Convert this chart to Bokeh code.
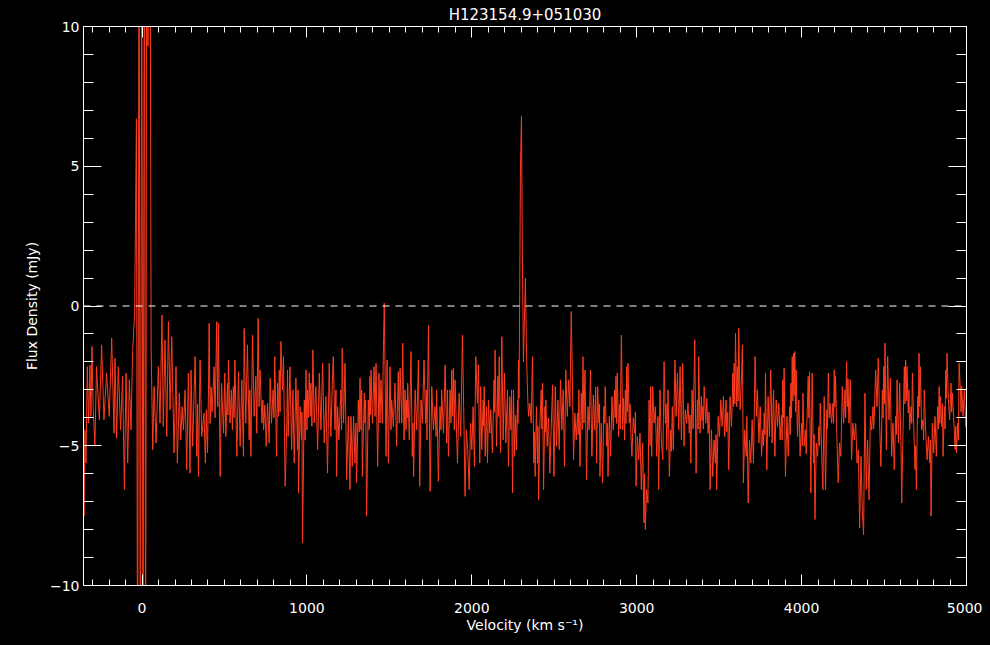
from bokeh.plotting import figure
from bokeh.models import Range1d, LinearAxis, SingleIntervalTicker, Span, ColumnDataSource, CustomLabelingPolicy
from bokeh.embed import file_html
from bokeh.resources import INLINE

TITLE = "H123154.9+051030"
X_LABEL = "Velocity (km s\u207b\u00b9)"
Y_LABEL = "Flux Density (mJy)"
X_RANGE = (-355, 5000)
Y_RANGE = (-10, 10)

# spectrum (velocity km/s, flux mJy)
vel_a = [-356, -352, -346, -340, -332, -324, -316, -310, -304, -296, -286, -276, -259, -245, -231, -215,
         -199, -184, -170, -164, -154, -144, -130, -118, -107, -97, -87, -77, -67, -57, -45]
flux_a = [-4.19, -7.52, -4.43, -5.62, -2.17, -4.19, -2.11, -3.95, -1.45, -3.71, -5.02, -2.17, -4.07, -1.39,
          -4.07, -2.40, -3.95, -1.15, -4.55, -1.87, -4.73, -2.17, -4.43, -2.52, -6.57, -2.40, -5.62, -2.64,
          -4.43, -1.63, -0.26]

vel_b = [-34, -27, -18, -10, -2, 6, 14, 22, 28, 36, 42, 49, 55]
flux_b = [6.7, -15, 15, -15, 15, -15, 15, -15, 15, 9.3, 12, 15, -1.45]

vel_c = [65, 73, 85, 99, 109, 121, 129, 139, 150, 160, 170, 180, 194, 206, 214, 226, 235, 243, 251, 261,
         271, 281, 291, 297, 307, 322, 332, 337, 342, 352, 362, 376, 384, 390]
flux_c = [-5.14, -2.88, -4.90, -2.17, -4.19, -0.32, -4.31, -1.21, -4.67, -0.56, -3.71, -1.10, -5.26, -2.17,
          -5.62, -3.12, -4.79, -3.60, -4.43, -3.00, -5.86, -2.40, -5.98, -2.29, -5.02, -1.81, -5.38, -3.50,
          -6.10, -1.93, -4.67, -3.83, -5.62, -3.71]

vel_d = [397, 403, 407, 413, 419, 425, 437, 443, 453, 459,
         463, 474, 482, 494, 502, 508, 518, 521, 524, 534,
         542, 548, 554, 558, 563, 575, 585, 595, 605, 615,
         619, 629, 639, 650, 654, 660, 670, 680, 690, 696,
         704, 710, 716, 727, 733, 737, 745, 753, 761, 771,
         777, 785, 795, 800, 805, 816, 822, 828, 832, 837,
         842, 852, 858, 868, 878, 882, 886, 897, 907, 915,
         923, 933, 943, 946, 949, 959, 967, 970, 973, 984,
         989, 994, 1000, 1004, 1009, 1014, 1020, 1024, 1030, 1036,
         1044, 1054, 1065, 1075, 1085, 1095, 1105, 1115, 1125, 1135,
         1145, 1156]
flux_d = [-5.26, -3.00, -0.62, -4.20, -2.90, -3.80, -2.17, -4.00, -0.56, -3.60,
          -0.62, -6.10, -2.76, -4.55, -2.40, -4.67, -2.76, -3.90, -1.93, -4.19,
          -3.00, -4.43, -2.88, -4.00, -1.93, -5.38, -2.35, -5.02, -2.64, -5.38,
          -0.80, -4.19, -1.39, -4.79, -3.00, -5.38, -1.04, -3.95, -2.52, -4.55,
          -0.44, -3.60, -2.29, -4.19, -3.36, -4.43, -3.54, -5.02, -3.48, -4.90,
          -2.58, -4.19, -3.00, -4.00, -1.81, -5.38, -2.76, -3.95, -2.29, -3.80,
          -1.27, -3.00, -1.81, -6.45, -4.19, -2.29, -4.67, -2.17, -5.14, -3.00,
          -5.62, -2.58, -5.14, -3.00, -6.69, -3.60, -4.79, -3.80, -8.48, -3.36,
          -4.80, -2.29, -4.43, -3.00, -4.00, -2.40, -3.95, -2.76, -4.30, -1.57,
          -4.19, -2.88, -5.14, -2.40, -4.43, -2.05, -4.90, -3.24, -5.98, -2.05,
          -4.67, -2.40]

vel_e = [1160, 1170, 1176, 1180, 1186, 1194, 1206, 1210, 1214, 1222,
         1231, 1241, 1251, 1261, 1267, 1275, 1283, 1291, 1297, 1301,
         1312, 1317, 1322, 1328, 1332, 1336, 1342, 1348, 1352, 1356,
         1362, 1372, 1378, 1382, 1385, 1389, 1397, 1407, 1413, 1419,
         1429, 1437, 1443, 1449, 1457, 1465, 1469, 1480, 1486, 1494,
         1504, 1510, 1514, 1524, 1534, 1544, 1554, 1560, 1565, 1575,
         1581, 1589, 1595, 1601, 1605, 1608, 1611, 1621, 1631, 1639,
         1643, 1647, 1656, 1666, 1676, 1684, 1692, 1700, 1710, 1720,
         1724, 1728, 1737, 1747, 1757, 1767, 1777, 1783, 1787, 1797,
         1807, 1813, 1817, 1828, 1838, 1848, 1852, 1858, 1868, 1874,
         1878, 1884, 1888, 1894, 1898]
flux_e = [-1.81, -4.43, -3.00, -6.10, -3.60, -4.79, -3.00, -4.43, -1.51, -4.19,
          -2.05, -6.21, -3.95, -6.57, -3.95, -5.74, -3.95, -5.62, -4.19, -6.33,
          -3.36, -4.50, -2.58, -4.43, -3.00, -6.10, -4.60, -3.12, -4.19, -3.36,
          -7.52, -3.36, -4.43, -2.52, -3.90, -2.29, -4.19, -2.17, -3.95, -2.05,
          -5.74, -2.40, -4.19, -2.64, -4.19, -1.10, 0.10, -5.38, -1.93, -5.62,
          -2.17, -4.43, -3.36, -4.31, -2.76, -5.02, -2.35, -4.19, -2.23, -4.19,
          -1.33, -4.79, -3.00, -4.43, -3.36, -4.00, -2.76, -4.79, -1.63, -5.38,
          -4.19, -6.10, -3.00, -4.43, -1.93, -6.45, -3.36, -4.19, -1.93, -4.19,
          -3.00, -4.79, -0.68, -6.63, -2.88, -4.43, -3.60, -4.67, -3.00, -6.27,
          -3.60, -4.43, -3.00, -4.55, -2.11, -4.90, -3.00, -5.38, -3.00, -4.19,
          -2.29, -3.95, -2.23, -4.43, -2.64]

vel_f = [1913, 1923, 1933, 1943, 1953, 1959, 1967, 1975, 1984, 1992,
         2000, 2008, 2016, 2024, 2034, 2040, 2048, 2054, 2060, 2069,
         2072, 2075, 2081, 2089, 2095, 2101, 2109, 2115, 2125, 2135,
         2138, 2141, 2150, 2158, 2162, 2166, 2174, 2182, 2190, 2198,
         2206, 2216, 2222, 2230, 2237, 2241, 2247, 2253, 2259, 2265,
         2271, 2277, 2280, 2283, 2286, 2289, 2295, 2301, 2307, 2313,
         2319, 2325, 2332, 2338, 2344, 2352, 2360, 2368, 2376, 2380,
         2384, 2392, 2398, 2401, 2405, 2413, 2421, 2425, 2429, 2435,
         2443, 2446, 2449, 2457, 2465, 2473, 2481, 2490, 2498, 2506,
         2514, 2522, 2530, 2538, 2546, 2554, 2562, 2570, 2579, 2587,
         2595, 2603, 2611, 2617, 2625, 2633, 2641, 2645, 2649]
flux_f = [-5.62, -3.12, -4.67, -1.04, -4.43, -6.81, -4.43, -5.14, -6.57, -4.19,
          -5.14, -3.60, -5.74, -1.81, -3.48, -2.11, -5.62, -2.88, -5.14, -3.36,
          -4.30, -2.88, -5.38, -3.60, -5.62, -3.36, -4.55, -3.71, -5.26, -2.64,
          -3.80, -1.57, -5.02, -2.52, -3.95, -1.81, -5.26, -1.10, -4.79, -2.40,
          -4.90, -3.00, -5.74, -3.24, -4.43, -3.00, -6.69, -3.00, -5.38, -3.90,
          -5.14, -3.36, -4.20, -1.93, -3.30, -0.98, 5.0, 6.8, 1.5, -2.0,
          -0.5, 1.0, -1.8, -3.12, -3.95, -3.48, -4.19, -1.81, -5.62, -4.50,
          -6.10, -3.60, -5.62, -4.30, -6.93, -4.19, -3.00, -4.40, -2.76, -6.57,
          -3.60, -4.50, -3.36, -5.02, -4.00, -5.98, -4.43, -2.82, -6.10, -2.88,
          -5.02, -3.36, -5.14, -2.64, -4.43, -3.00, -5.74, -2.29, -3.95, -2.64,
          -3.60, -0.20, -3.00, -5.50, -3.83, -4.79, -3.83, -4.60, -3.00]

vel_g = [2656, 2664, 2670, 2674, 2680, 2686, 2696, 2704, 2712, 2720,
         2728, 2737, 2745, 2751, 2757, 2763, 2771, 2774, 2777, 2785,
         2793, 2801, 2805, 2809, 2817, 2822, 2826, 2834, 2842, 2850,
         2858, 2866, 2870, 2874, 2878, 2882, 2890, 2896, 2900, 2907,
         2915, 2920, 2927, 2931, 2935, 2939, 2943, 2947, 2955, 2960,
         2965, 2971, 2979, 2988, 2992, 2996, 3004, 3012, 3020, 3028,
         3036, 3044, 3048, 3052, 3060, 3068, 3075, 3081, 3085, 3091,
         3097, 3105, 3113, 3121, 3129, 3133, 3141, 3149, 3158, 3162,
         3166, 3174, 3178, 3182, 3190, 3198, 3206, 3210, 3216, 3222,
         3232, 3239, 3247, 3255, 3263, 3271, 3279, 3287, 3295, 3303,
         3311, 3319, 3323, 3328, 3336, 3342, 3352, 3360, 3368, 3372,
         3376, 3384, 3392, 3396, 3400, 3404]
flux_g = [-5.74, -3.12, -4.43, -1.81, -4.19, -2.29, -6.21, -3.60, -4.43, -2.29,
          -5.38, -3.18, -4.43, -2.90, -5.62, -2.88, -4.19, -3.50, -6.10, -4.19,
          -6.33, -3.60, -4.20, -2.88, -5.02, -4.20, -6.10, -3.95, -5.38, -3.24,
          -4.43, -3.00, -4.00, -2.52, -4.20, -2.40, -4.67, -3.50, -4.40, -1.04,
          -4.43, -3.30, -4.80, -3.00, -4.20, -2.17, -3.80, -2.05, -4.19, -3.50,
          -4.60, -5.38, -4.00, -4.55, -3.80, -6.45, -4.67, -5.50, -4.55, -6.57,
          -4.90, -7.76, -6.00, -8.00, -6.57, -7.05, -3.36, -5.00, -2.88, -5.38,
          -2.88, -4.19, -3.60, -5.38, -3.95, -6.57, -3.00, -4.79, -5.50, -4.00,
          -1.99, -4.19, -3.50, -5.14, -3.00, -6.10, -4.43, -5.20, -3.60, -5.14,
          -1.93, -3.95, -2.40, -4.43, -2.17, -4.79, -2.05, -5.02, -3.71, -4.19,
          -3.48, -4.55, -3.90, -5.62, -3.00, -4.40, -1.21, -5.98, -3.36, -4.40,
          -1.81, -4.55, -3.24, -4.10, -3.60, -4.40]

vel_h = [3409, 3419, 3425, 3433, 3439, 3445, 3453, 3461, 3469, 3477,
         3481, 3485, 3494, 3502, 3510, 3518, 3526, 3534, 3542, 3546,
         3552, 3558, 3566, 3575, 3583, 3587, 3591, 3595, 3599, 3607,
         3611, 3615, 3619, 3627, 3635, 3641, 3647, 3655, 3664, 3668,
         3676, 3684, 3692, 3700, 3708, 3718, 3726, 3732, 3741, 3749,
         3757, 3765, 3769, 3773, 3777, 3781, 3789, 3797, 3805, 3813,
         3821, 3830, 3838, 3846, 3854, 3862, 3870, 3878, 3882, 3886,
         3890, 3894, 3902, 3911, 3919, 3927, 3931, 3935, 3939, 3943,
         3947, 3951, 3955, 3959, 3963, 3967, 3975, 3983, 3991, 4000,
         4004, 4008, 4016, 4024, 4028, 4032, 4040, 4044, 4048, 4056,
         4064, 4072, 4076, 4081, 4089, 4097, 4105, 4109, 4113, 4121,
         4129, 4137, 4145, 4153, 4157]
flux_h = [-2.88, -4.19, -3.30, -4.55, -3.80, -6.57, -4.43, -6.10, -4.79, -5.62,
          -4.60, -6.57, -3.95, -4.67, -3.36, -4.31, -3.24, -4.67, -3.36, -4.50,
          -3.80, -5.86, -3.24, -4.31, -2.40, -3.60, -2.05, -3.50, -0.98, -3.60,
          -2.17, -3.40, -0.80, -3.71, -2.64, -1.39, -6.33, -4.43, -5.38, -3.95,
          -7.05, -4.79, -5.62, -4.07, -5.62, -1.81, -3.95, -3.00, -4.90, -3.60,
          -5.38, -4.43, -5.00, -3.83, -4.60, -2.40, -5.86, -3.24, -4.67, -2.29,
          -4.90, -3.00, -5.38, -3.36, -4.31, -3.48, -4.79, -3.90, -4.80, -2.64,
          -4.00, -2.23, -6.10, -3.95, -5.38, -3.60, -4.60, -2.76, -4.00, -1.81,
          -3.40, -1.69, -3.20, -1.63, -3.80, -2.29, -4.67, -3.36, -5.38, -4.19,
          -5.00, -3.12, -5.02, -4.43, -5.30, -4.19, -2.52, -4.00, -2.35, -6.69,
          -2.40, -5.62, -4.60, -7.64, -4.90, -5.38, -4.31, -5.00, -3.48, -5.14,
          -6.57, -3.24, -6.57, -3.71, -4.40]

vel_i = [4162, 4168, 4172, 4182, 4190, 4194, 4198, 4202, 4206, 4212,
         4222, 4230, 4238, 4247, 4255, 4263, 4267, 4273, 4277, 4281,
         4287, 4295, 4303, 4311, 4319, 4328, 4336, 4344, 4352, 4360,
         4368, 4376, 4384, 4392, 4400, 4409, 4417, 4425, 4433, 4437,
         4441, 4449, 4457, 4465, 4473, 4481, 4490, 4494, 4498, 4502,
         4506, 4514, 4522, 4530, 4538, 4546, 4554, 4562, 4570, 4575,
         4579, 4587, 4595, 4603, 4607, 4615, 4623, 4627, 4631, 4635,
         4639, 4647, 4651, 4655, 4664, 4668, 4672, 4680, 4688, 4692,
         4696, 4704, 4708, 4712, 4716, 4720, 4728, 4736, 4740, 4744,
         4753, 4761, 4769, 4777, 4781, 4785, 4793, 4801, 4809, 4817,
         4825, 4830, 4834, 4838, 4842, 4850, 4854, 4858, 4866, 4870,
         4874, 4878, 4882, 4890, 4898, 4906, 4910, 4914, 4922, 4931,
         4935, 4939, 4947, 4951, 4955, 4963, 4967, 4971, 4979, 4987,
         4995, 5000]
flux_i = [-2.40, -4.00, -3.48, -4.19, -3.48, -4.20, -2.29, -3.60, -2.52, -4.31,
          -6.33, -4.90, -5.38, -2.88, -4.19, -3.00, -4.00, -1.99, -3.60, -2.60,
          -4.19, -2.64, -5.50, -4.19, -4.79, -4.20, -5.62, -5.14, -7.94, -5.38,
          -7.29, -8.18, -3.12, -6.57, -4.79, -6.93, -3.95, -4.43, -3.60, -4.40,
          -3.95, -2.29, -3.60, -1.87, -4.19, -5.74, -3.00, -4.00, -2.17, -3.50,
          -1.33, -5.14, -1.81, -4.07, -2.58, -5.38, -4.19, -5.86, -3.95, -4.60,
          -2.64, -4.90, -2.76, -5.14, -7.05, -4.43, -2.17, -3.50, -1.93, -3.40,
          -2.17, -3.83, -3.00, -4.43, -3.60, -4.20, -2.40, -4.31, -5.86, -5.00,
          -6.57, -3.24, -4.00, -1.69, -3.60, -2.17, -4.43, -4.07, -4.80, -3.00,
          -4.55, -5.50, -4.67, -5.62, -4.80, -7.52, -4.19, -5.26, -3.95, -5.38,
          -3.60, -4.40, -2.88, -4.20, -3.24, -4.31, -3.50, -5.38, -3.60, -4.40,
          -2.29, -3.30, -1.69, -3.36, -4.07, -2.76, -3.80, -3.12, -3.95, -5.14,
          -4.30, -5.26, -4.19, -4.80, -2.05, -3.00, -3.80, -2.88, -3.95, -3.00,
          -4.31, -3.36]

velocity = vel_a + vel_b + vel_c + vel_d + vel_e + vel_f + vel_g + vel_h + vel_i
flux = flux_a + flux_b + flux_c + flux_d + flux_e + flux_f + flux_g + flux_h + flux_i
n = min(len(velocity), len(flux))
source = ColumnDataSource(data=dict(v=velocity[:n], f=flux[:n]))

FONT = "DejaVu Sans"
WHITE = "#ffffff"
RED = "#ff3c1e"

p = figure(width=982, height=637, output_backend="svg", toolbar_location=None,
           x_range=Range1d(*X_RANGE), y_range=Range1d(*Y_RANGE),
           min_border_left=83, min_border_right=16, min_border_top=25, min_border_bottom=52,
           background_fill_color="black", border_fill_color="black",
           title=TITLE)
p.outline_line_color = None
p.xgrid.visible = False
p.ygrid.visible = False

p.title.align = "center"
p.title.text_color = WHITE
p.title.text_font = FONT
p.title.text_font_size = "15px"
p.title.text_font_style = "normal"
p.title.standoff = 6
p.title.offset = 0

p.line("v", "f", source=source, line_color=RED, line_width=1)
p.add_layout(Span(location=0, dimension="width", line_color=WHITE, line_width=1, line_dash="7 6"))

NO_LABELS = CustomLabelingPolicy(code="for (const i of Array.from(indices)) { indices.unset(i) }")


def style(ax, xaxis, labels):
    if xaxis:
        ax.ticker = SingleIntervalTicker(interval=1000, num_minor_ticks=10)
        ax.major_tick_in = 11
        ax.minor_tick_in = 6
    else:
        ax.ticker = SingleIntervalTicker(interval=5, num_minor_ticks=5)
        ax.major_tick_in = 18
        ax.minor_tick_in = 10
    ax.major_tick_out = 0
    ax.minor_tick_out = 0
    ax.axis_line_color = WHITE
    ax.major_tick_line_color = WHITE
    ax.minor_tick_line_color = WHITE
    ax.major_label_text_color = WHITE
    ax.major_label_text_font = FONT
    ax.axis_label_text_color = WHITE
    ax.axis_label_text_font = FONT
    ax.axis_label_text_font_style = "normal"
    ax.axis_label_text_font_size = "14px"
    if labels:
        ax.major_label_text_font_size = "14px"
    else:
        ax.major_label_policy = NO_LABELS
        ax.major_label_text_font_size = "0px"
        ax.major_label_standoff = 0


xb = p.xaxis[0]
style(xb, True, True)
xb.axis_label = X_LABEL
xb.major_label_standoff = 17
xb.axis_label_standoff = 1

yl = p.yaxis[0]
style(yl, False, True)
yl.axis_label = Y_LABEL
yl.major_label_standoff = 4
yl.axis_label_standoff = 7

xt = LinearAxis()
style(xt, True, False)
p.add_layout(xt, "above")

yr = LinearAxis()
style(yr, False, False)
p.add_layout(yr, "right")

html = file_html(p, INLINE)
html = html.replace("</head>", "<style>html,body{background:#000000;}</style></head>", 1)
open("out.html", "w").write(html)
